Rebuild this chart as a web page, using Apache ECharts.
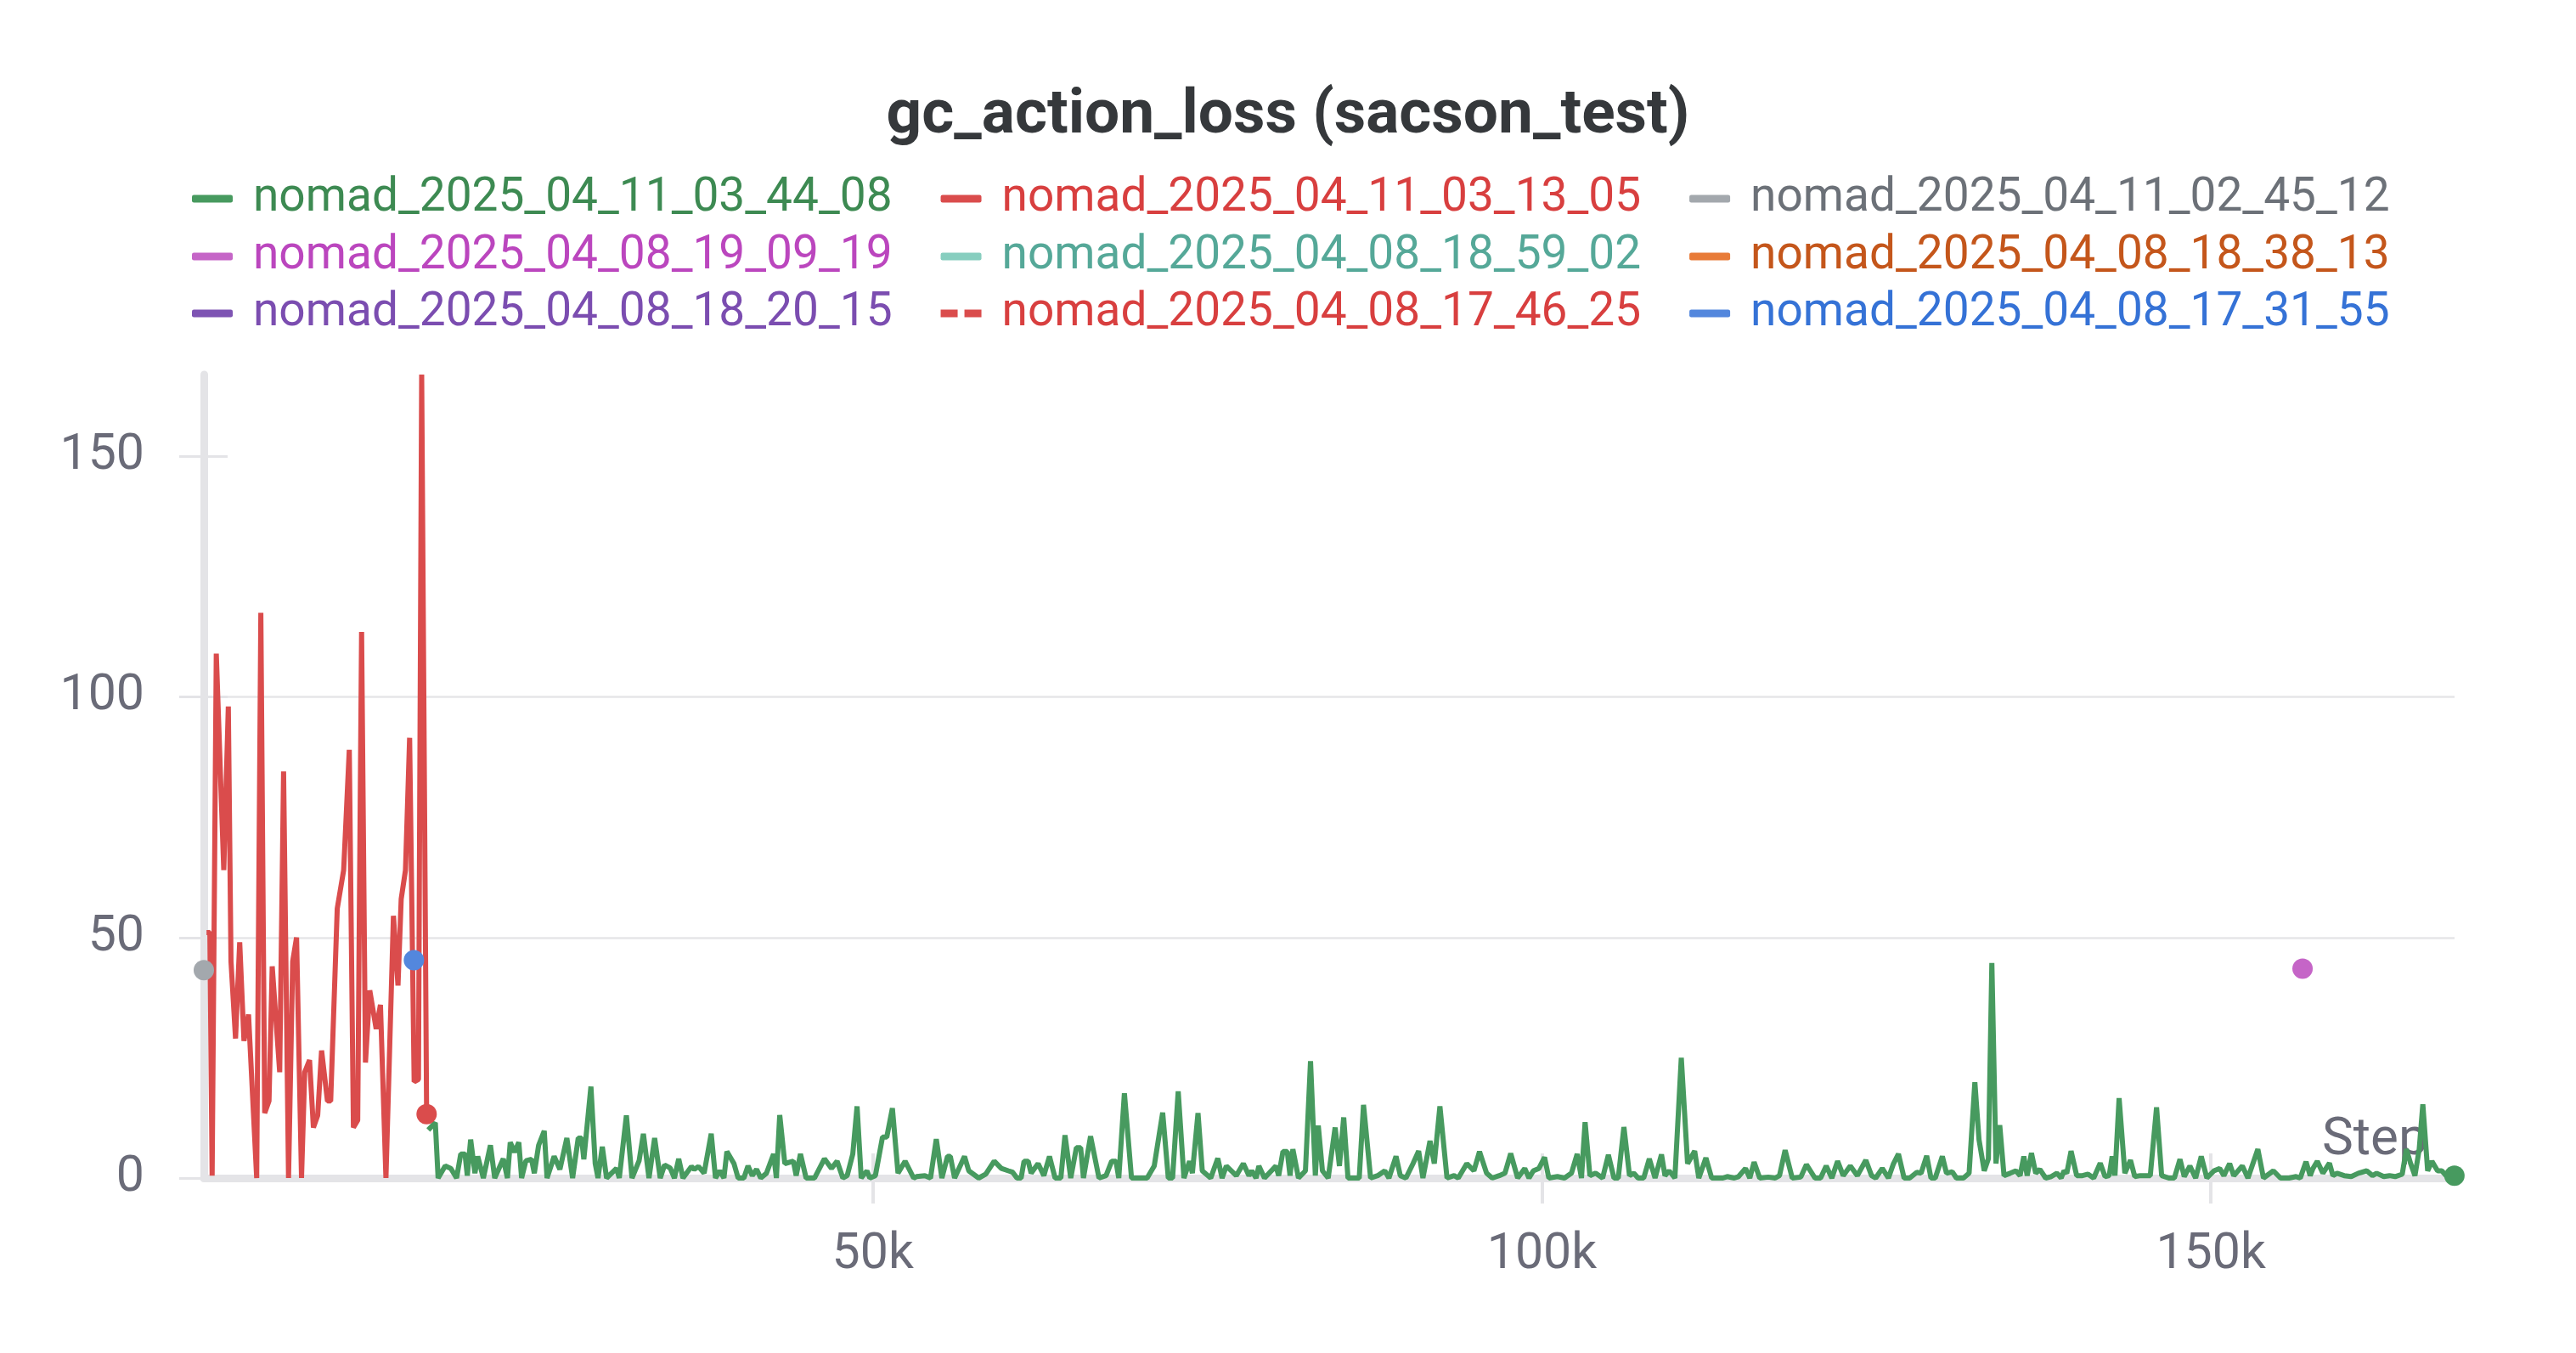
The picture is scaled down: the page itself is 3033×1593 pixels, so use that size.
<!DOCTYPE html>
<html>
<head>
<meta charset="utf-8">
<script src="https://cdn.jsdelivr.net/npm/echarts@6/dist/echarts.min.js"></script>
<style>html,body{margin:0;padding:0;background:#fff;}#c{width:3033px;height:1593px;}</style>
</head>
<body>
<div id="c"></div>
<script>
const titleText = 'gc_action_loss (sacson_test)';
const seriesNames = [
  'nomad_2025_04_11_03_44_08','nomad_2025_04_11_03_13_05','nomad_2025_04_11_02_45_12',
  'nomad_2025_04_08_19_09_19','nomad_2025_04_08_18_59_02','nomad_2025_04_08_18_38_13',
  'nomad_2025_04_08_18_20_15','nomad_2025_04_08_17_46_25','nomad_2025_04_08_17_31_55'
];
const lineColors = ['#479a5f','#da4c4c','#a3a8ad','#c565c7','#87cebf','#e87b38','#7e54b3','#da4c4c','#5387dd'];
const textColors = ['#3d8a52','#d83f3f','#6c7178','#bb46be','#55a898','#c4561b','#7b4db0','#d83f3f','#3572d6'];

const xTickValues = [50000, 100000, 150000];
const yTickValues = [0, 50, 100, 150];

// red run (nomad_2025_04_11_03_13_05): steps in thousands, loss values
const redStepK = [0.2,0.45,0.62,0.93,1.49,1.6,1.83,2.03,2.37,2.68,3.0,3.34,3.95,4.26,4.55,4.87,5.11,5.67,5.96,6.33,6.64,6.93,7.3,7.54,7.9,8.19,8.51,8.8,9.24,9.48,9.97,10.45,10.87,11.18,11.5,11.79,12.08,12.4,12.88,13.2,13.61,14.17,14.51,14.75,15.07,15.38,15.72,16.04,16.28,16.65];
const redLoss  = [51,51,0.5,109,64,64,98,45,29,49,28.5,34,0,117.5,13.5,16,44,22,84.5,0,45,50,0,22,24.5,10.5,13,26.5,16,16,56,64,89,10.5,12,113.5,24,39,31,36,0,54.5,40,58,64,91.5,20,20.5,167,13.3];

// green run (nomad_2025_04_11_03_44_08)
const greenStepK = [
16.77,17.30,17.51,18.04,18.46,18.89,19.20,19.52,19.69,19.94,20.26,20.47,20.89,21.42,21.74,22.38,22.69,22.90,23.22,23.54,23.75,24.07,24.49,24.70,25.02,25.44,25.65,26.18,26.61,27.13,27.56,27.98,28.23,28.40,28.93,29.25,29.46,29.78,30.10,30.84,31.05,31.58,32.00,32.53,32.85,33.27,33.69,34.11,34.43,34.85,35.17,35.49,35.81,36.44,36.65,36.97,37.39,
37.92,38.24,38.56,38.87,39.09,39.62,39.93,40.36,40.67,40.99,41.31,41.62,42.05,42.58,42.79,43.04,43.42,44.06,44.27,44.59,45.01,45.64,46.38,46.91,47.33,47.76,48.08,48.50,48.82,49.13,49.56,49.77,50.19,50.72,51.04,51.46,51.88,52.41,53.05,53.26,53.89,54.31,54.74,55.16,55.58,55.79,56.11,56.85,57.17,57.91,58.44,59.07,59.60,
60.13,60.45,60.77,61.08,61.30,61.61,61.83,62.35,62.78,63.20,63.62,64.05,64.36,64.79,65.21,65.53,65.74,66.27,66.90,67.43,67.85,68.17,68.38,68.80,69.33,69.86,70.50,71.03,71.66,72.08,72.40,72.82,73.25,73.67,73.88,74.30,74.62,75.25,75.78,76.10,76.42,77.16,77.69,78.11,78.32,78.64,78.85,79.27,80.12,80.33,80.65,80.97,81.18,81.39,81.81,
82.33,82.71,83.07,83.29,83.60,84.03,84.55,84.87,85.19,85.51,86.03,86.35,86.67,87.20,87.73,88.26,88.57,89.10,89.42,89.84,90.37,90.79,91.11,91.64,91.96,92.38,92.91,93.44,93.75,94.39,94.92,95.34,95.87,96.29,96.82,97.24,97.67,98.19,98.72,99.04,99.36,99.78,100.20,100.52,101.16,101.69,102.21,102.64,102.96,103.23,103.59,104.01,
104.54,104.97,105.39,105.71,106.13,106.55,106.87,107.19,107.61,108.03,108.46,108.94,109.20,109.51,109.94,110.42,110.89,111.42,111.73,112.26,112.69,113.53,113.85,114.38,114.70,115.22,115.54,115.86,116.28,116.92,117.44,117.76,118.18,118.71,119.35,119.77,120.41,120.83,121.25,121.67,122.10,122.52,123.05,123.58,124.21,124.64,124.95,125.44,125.90,126.28,
126.65,127.07,127.49,128.02,128.34,128.76,129.08,129.40,129.93,130.24,130.67,130.98,131.51,131.93,132.36,132.67,133.06,133.37,133.63,133.94,134.22,134.54,135.00,135.43,135.74,136.02,136.27,136.59,136.91,137.22,137.65,138.07,138.49,138.81,139.02,139.23,139.55,139.97,140.40,140.82,141.24,141.73,142.09,142.40,142.62,142.83,143.14,143.57,143.99,144.31,144.73,145.15,145.47,145.94,146.32,146.85,147.27,147.69,148.01,148.43,
148.86,149.28,149.70,150.23,150.66,150.97,151.40,151.71,152.03,152.35,152.77,153.51,153.93,154.67,155.20,155.84,156.37,156.68,157.11,157.42,157.63,157.95,158.37,158.86,159.12,159.43,159.96,160.49,161.02,161.65,162.08,162.39,162.92,163.35,163.77,164.30,164.61,164.93,165.25,165.57,165.84,166.20,166.52,166.94,167.26,167.58,167.90,168.20
];
const greenLoss = [
10,11.5,0,2.5,2,0,5,5,0.5,8,1,4.5,0,6.8,0,4,0,7.4,5.4,7.4,0,3.6,3.9,1,6.8,9.8,0,4.5,1.8,8.3,0,8.3,8.3,3.9,19,3,0,6.5,0,2,0,13,0,3.6,9.2,0,8.3,0,2.7,2.1,0,4,0,2.4,1.8,2.4,1,
9.2,0,1.5,0,5.5,3,0,0,2.5,0.5,1.8,0,1,5,0,13.1,3,3.5,0.5,5,0,0,4,2,3.5,0,0.5,5,14.9,0,1.5,0,0.5,8.5,8.5,14.5,1,3.5,0,0.3,0.5,0,8.1,0,4.5,4.5,0,4.5,1.5,0,0.8,3.5,2,
1.5,1.2,0,0,3.5,3.5,1,3,0.5,4.5,0,0,8.9,0,6.3,6.3,0,8.7,0,0.5,3.5,3.5,0,17.6,0,0,0,2.5,13.6,0,0,18,0,3.5,1,13.5,1.5,0,4.1,0,2.5,0.5,3,0.5,1.5,0,2.5,0,2.5,0.5,5.5,5.5,0.5,6,0,
1.5,24.3,0.5,10.9,1.5,0,10.5,2.5,12.6,0,0,0,15.2,0,0.5,1.5,0,4.5,0.5,0,3,5.6,0,7.7,3,14.9,0,0.5,0,3,1.5,5.5,1,0,0.5,1,5.1,0,2,0,1.5,2,4.3,0,0.3,0,1,5,0,11.6,0.5,1,
0,4.8,0,0,10.6,0.5,1,0,0,4,0,4.9,0.5,1.5,0,25,3,5.6,0,4.2,0,0,0.3,0,0.3,2,0,3.3,0,0.2,0,0.5,5.8,0,0.2,2.8,0,0,2.5,0,3.5,0.5,2.5,0.5,3.7,0.5,0,2,0,3,
5,0,0,1.2,1,4.6,0,0,4.5,1,1.3,0,0,1,19.9,8,1.5,4,44.7,3,11,0.5,1,1.5,0.5,4.5,0.5,5.2,1,1.8,0,0.3,1,0,1.5,1,5.6,0.5,0.5,0.8,0,3.1,0.3,0.5,4.5,0.5,16.6,1,3.7,0.3,0.5,0.5,0.5,14.7,0.5,0,0,3.9,0.3,2.5,
0,4.5,0,1.5,2,0.5,3,0.5,1.5,2.5,0,6,0,1.5,0,0,0.3,0,3.4,0.5,2,3.5,1,3.1,0.5,1,0.5,0.3,1,1.5,0.5,1,0.3,0.5,0.3,0.8,6,3,0.5,6,15.3,1.5,3.5,1.5,1.5,0.5,1,0.5
];

// single logged points of other runs: [step in thousands, loss]
const greyPoint = [0, 43.2];
const pinkPoint = [156.85, 43.5];
const bluePoint = [15.7, 45.3];

const X_MAX = 168210;
const Y_MAX = 167;
const FONT = 'Roboto, "Noto Sans", sans-serif';
const LINE_W = 6;

function pairs(stepK, vals, endDot) {
  return stepK.map((s, i) => {
    const item = { value: [Math.round(s * 1000), vals[i]] };
    if (endDot && i === stepK.length - 1) item.symbolSize = 24;
    return item;
  });
}

const greenData = pairs(greenStepK, greenLoss, true);
const redData = pairs(redStepK, redLoss, true);

function lineSeries(idx, data, extra) {
  return Object.assign({
    name: seriesNames[idx],
    type: 'line',
    data: data,
    symbol: 'circle',
    symbolSize: 0,
    showSymbol: true,
    showAllSymbol: true,
    lineStyle: { color: lineColors[idx], width: LINE_W },
    itemStyle: { color: lineColors[idx] },
    emphasis: { disabled: true },
    clip: true,
    silent: true
  }, extra || {});
}

const series = [
  lineSeries(0, greenData),
  lineSeries(1, redData),
  lineSeries(2, [{ value: [greyPoint[0] * 1000, greyPoint[1]], symbolSize: 24 }]),
  lineSeries(3, [{ value: [Math.round(pinkPoint[0] * 1000), pinkPoint[1]], symbolSize: 24 }]),
  lineSeries(4, []),
  lineSeries(5, []),
  lineSeries(6, []),
  lineSeries(7, [], { lineStyle: { color: lineColors[7], width: LINE_W, type: 'dashed' } }),
  lineSeries(8, [{ value: [Math.round(bluePoint[0] * 1000), bluePoint[1]], symbolSize: 24 }])
];

const legendTops = [195, 263, 330];
const legends = [0, 1, 2].map(r => ({
  top: legendTops[r],
  left: 221,
  orient: 'horizontal',
  itemWidth: 48,
  itemHeight: 9,
  itemGap: 57,
  icon: 'roundRect',
  selectedMode: false,
  textStyle: { fontFamily: FONT, fontSize: 55, lineHeight: 60, padding: [8, 0, 0, 19] },
  data: seriesNames.slice(r * 3, r * 3 + 3).map((n, k) => {
    const idx = r * 3 + k;
    const d = { name: n, textStyle: { color: textColors[idx] } };
    if (idx === 7) d.icon = 'path://M0,0H20V9H0Z M28,0H48V9H28Z';
    return d;
  })
}));

const axisGrey = '#e4e4e7';
const labelGrey = '#6a6b78';

const option = {
  animation: false,
  backgroundColor: '#ffffff',
  title: {
    text: titleText,
    left: 'center',
    top: 96,
    textStyle: { fontFamily: FONT, fontSize: 73, fontWeight: 'bold', color: '#35383b' }
  },
  legend: legends,
  grid: { left: 240, right: 143, top: 441, bottom: 206, containLabel: false },
  xAxis: [
    {
      type: 'value', min: 0, max: X_MAX, interval: 50000,
      position: 'bottom',
      axisLine: { show: true, onZero: false, lineStyle: { color: axisGrey, width: 9 } },
      axisTick: { show: true, inside: false, length: 30, customValues: xTickValues, lineStyle: { color: axisGrey, width: 4 } },
      axisLabel: {
        show: true, margin: 62, customValues: xTickValues,
        fontFamily: FONT, fontSize: 59, color: labelGrey,
        formatter: v => (v / 1000) + 'k'
      },
      splitLine: { show: false },
      name: 'Step', nameLocation: 'end', nameGap: -156,
      nameTextStyle: { fontFamily: FONT, fontSize: 62, color: labelGrey, align: 'left', verticalAlign: 'bottom', lineHeight: 62, padding: [0, 0, 13, 0] }
    },
    {
      type: 'value', min: 0, max: X_MAX, interval: 50000,
      position: 'bottom',
      axisLine: { show: false, onZero: false },
      axisTick: { show: true, inside: true, length: 29, customValues: xTickValues, lineStyle: { color: axisGrey, width: 4 } },
      axisLabel: { show: false },
      splitLine: { show: false }
    }
  ],
  yAxis: [
    {
      type: 'value', min: 0, max: Y_MAX, interval: 50,
      axisLine: { show: true, onZero: false, lineStyle: { color: axisGrey, width: 9 } },
      axisTick: { show: true, inside: false, length: 29, customValues: yTickValues, lineStyle: { color: axisGrey, width: 3 } },
      axisLabel: { show: true, margin: 70, customValues: yTickValues, fontFamily: FONT, fontSize: 59, color: labelGrey },
      splitLine: { show: true, showMinLine: false, showMaxLine: false, lineStyle: { color: '#e6e6e8', width: 2.5 } }
    },
    {
      type: 'value', min: 0, max: Y_MAX, interval: 50,
      position: 'left',
      axisLine: { show: false, onZero: false },
      axisTick: { show: true, inside: true, length: 28, customValues: yTickValues, lineStyle: { color: axisGrey, width: 3 } },
      axisLabel: { show: false },
      splitLine: { show: false }
    }
  ],
  series: series
};

const chart = echarts.init(document.getElementById('c'), null, { renderer: 'canvas' });
chart.setOption(option);
</script>
</body>
</html>
